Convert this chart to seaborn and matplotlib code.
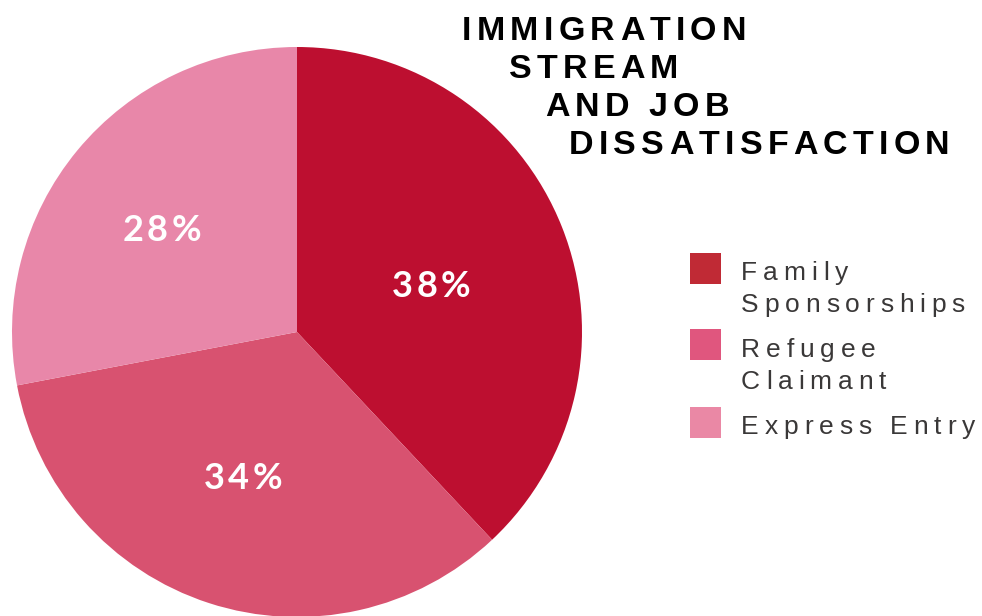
import numpy as np
import matplotlib
matplotlib.use("Agg")
import matplotlib.pyplot as plt
import seaborn as sns
from matplotlib.font_manager import FontProperties, findfont, get_font
from matplotlib.patches import Rectangle

# data
streams = ['Family\nSponsorships', 'Refugee\nClaimant', 'Express Entry']
shares = [38, 34, 28]
slice_colors = ['#BD0F30', '#D85270', '#E887A9']
legend_colors = ['#C02A35', '#E0567E', '#EA88A5']
title_lines = ['IMMIGRATION', 'STREAM', 'AND JOB', 'DISSATISFACTION']

W, H, DPI = 982, 616, 100

sns.set_theme(style='white')
fig = plt.figure(figsize=(W / DPI, H / DPI), dpi=DPI)
fig.patch.set_facecolor('white')


def tracked(x, y, s, size, track, family, weight='normal', color='black', center=False):
    # draws text char by char with extra letter spacing; x, y in pixels from top-left, y = baseline
    prop = FontProperties(family=family, weight=weight, size=size)
    font = get_font(findfont(prop))
    font.set_size(size, DPI)
    advs = [font.load_char(ord(c)).linearHoriAdvance / 65536 for c in s]
    total = sum(advs) + track * (len(s) - 1)
    if center:
        x = x - total / 2
    for c, a in zip(s, advs):
        fig.text(x / W, 1 - y / H, c, fontproperties=prop, color=color, ha='left', va='baseline')
        x += a + track


# pie
cx, cy, r = 297, 332, 285
ax = fig.add_axes([(cx - r) / W, (H - cy - r) / H, 2 * r / W, 2 * r / H])
wedges, _ = ax.pie(shares, colors=slice_colors, startangle=90, counterclock=False,
                   wedgeprops=dict(linewidth=0))
ax.set_xlim(-1, 1)
ax.set_ylim(-1, 1)
ax.set_aspect('equal')
ax.axis('off')

label_dist = [0.50, 0.54, 0.60]
label_shift = [-2.0, -2.6, 2.0]
for w, v, d, s in zip(wedges, shares, label_dist, label_shift):
    mid = np.deg2rad((w.theta1 + w.theta2) / 2 + s)
    px, py = ax.transData.transform((d * np.cos(mid), d * np.sin(mid)))
    tracked(px, H - py + 13, f'{v}%', 26, 3.5, ['Lato', 'DejaVu Sans'], weight='bold',
            color='white', center=True)

# title
title_x = [462, 509, 545, 569]
title_y = [40, 78, 116, 154]
for line, x, y in zip(title_lines, title_x, title_y):
    tracked(x, y, line, 24.5, 5.2, ['Liberation Sans', 'DejaVu Sans'], weight='bold', color='black')

# legend
sw_top = [253, 329, 407]
text_base = [280, 357, 434]
for name, col, top, base in zip(streams, legend_colors, sw_top, text_base):
    fig.add_artist(Rectangle((690 / W, 1 - (top + 31) / H), 31 / W, 31 / H,
                             transform=fig.transFigure, facecolor=col, edgecolor='none'))
    for i, part in enumerate(name.split('\n')):
        tracked(741, base + i * 32, part, 19, 5.8, ['Liberation Sans', 'DejaVu Sans'], color='#3A3838')

fig.savefig('out.png', dpi=DPI)
